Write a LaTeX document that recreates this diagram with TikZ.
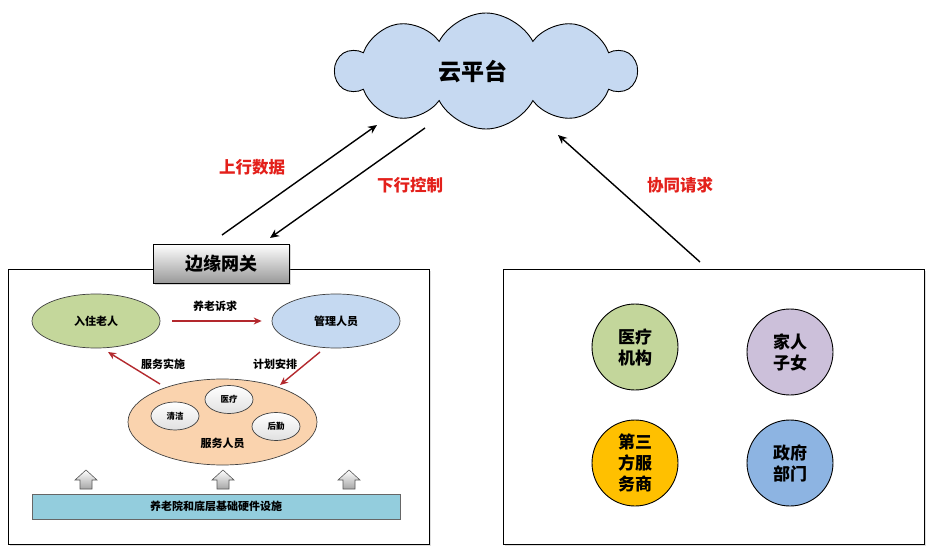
\documentclass[tikz,border=0pt]{standalone}
\usepackage{fontspec}
\setmainfont{Noto Sans CJK SC}
\usetikzlibrary{shapes.geometric,shapes.symbols,arrows.meta,shadows}
\definecolor{cloudblue}{HTML}{C6D9F1}
\definecolor{labelred}{HTML}{E3201B}
\definecolor{arrred}{HTML}{B3282D}
\definecolor{eldgreen}{HTML}{C4D79B}
\definecolor{mgrblue}{HTML}{C5D9F1}
\definecolor{peach}{HTML}{FAD3AE}
\definecolor{barblue}{HTML}{93CDDD}
\definecolor{cgreen}{HTML}{C3D69B}
\definecolor{cpurple}{HTML}{CCC0DA}
\definecolor{corange}{HTML}{FFC000}
\definecolor{cblue}{HTML}{8DB4E2}
\tikzset{
  panel/.style={draw=black, line width=0.9pt, fill=white, anchor=north west,
    drop shadow={shadow xshift=1.5pt, shadow yshift=-1.5pt, opacity=0.25}},
  ell/.style={ellipse, draw=black!75, line width=0.7pt, inner sep=0pt},
  bigtxt/.style={font=\fontsize{11}{11}\selectfont\bfseries},
  smalltxt/.style={font=\fontsize{8.5}{8.5}\selectfont\bfseries},
  smallell/.style={ell, minimum width=48pt, minimum height=28pt, top color=white, bottom color=black!12, smalltxt},
  circnode/.style={circle, draw=black, line width=0.9pt, minimum size=86pt, inner sep=0pt, align=center,
    font=\fontsize{17}{21}\selectfont\bfseries},
  redlbl/.style={text=labelred, font=\fontsize{16.5}{16.5}\selectfont\bfseries},
  blk/.style={-{Stealth[length=9pt,width=8pt]}, line width=1.4pt},
  redarr/.style={-{Stealth[length=8pt,width=7pt]}, line width=1.4pt, draw=arrred},
  uparrow/.pic={\path[draw=black!65, line width=0.6pt, top color=white, bottom color=black!35]
     (0,-9.5) -- (11,0.5) -- (6,0.5) -- (6,9.5) -- (-6,9.5) -- (-6,0.5) -- (-11,0.5) -- cycle;}
}
\begin{document}
\begin{tikzpicture}[x=1pt,y=-1pt,font=\bfseries]
\useasboundingbox (0,0) rectangle (931,553);
% cloud
\node[cloud, cloud puffs=10, cloud puff arc=125, cloud ignores aspect, draw=black, line width=0.9pt, fill=cloudblue,
  minimum width=300pt, minimum height=116pt, inner sep=0pt] (cloud) at (486,71) {};
\node[font=\fontsize{23}{23}\selectfont\bfseries] (cloudtxt) at (473,72) {云平台};
% panels
\node[panel, minimum width=421pt, minimum height=275pt] (left) at (8,269) {};
\node[panel, minimum width=421pt, minimum height=275pt] (right) at (503,269) {};
% gateway
\node[draw=black, line width=0.9pt, top color=white, bottom color=black!40, minimum width=136pt,
  minimum height=39pt, inner sep=0pt, font=\fontsize{18}{18}\selectfont\bfseries,
  drop shadow={shadow xshift=1.5pt, shadow yshift=-1.5pt, opacity=0.3}] (gw) at (221,263.5) {边缘网关};
% top arrows
\coordinate (a1s) at (222,235);
\coordinate (a1e) at (377,125);
\coordinate (a2s) at (425,128);
\coordinate (a2e) at (270,238);
\coordinate (a3s) at (700,262);
\coordinate (a3e) at (558,135);
\draw[blk] (a1s) -- (a1e);
\draw[blk] (a2s) -- (a2e);
\draw[blk] (a3s) -- (a3e);
\node[redlbl] (l1) at (252,167) {上行数据};
\node[redlbl] (l2) at (410,185) {下行控制};
\node[redlbl] (l3) at (680,185) {协同请求};
% left panel contents
\node[ell, fill=eldgreen, minimum width=128pt, minimum height=54pt, bigtxt] (elder) at (96,321) {入住老人};
\node[ell, fill=mgrblue, minimum width=128pt, minimum height=54pt, bigtxt] (mgr) at (336,321) {管理人员};
\node[ell, fill=peach, minimum width=189pt, minimum height=86pt] (svc) at (222.5,422) {};
\node[bigtxt] (svctxt) at (222.5,443) {服务人员};
\node[smallell] (clean) at (175,416) {清洁};
\node[smallell] (med) at (229,399.5) {医疗};
\node[smallell] (logi) at (276,426.5) {后勤};
\draw[redarr, shorten <=12pt, shorten >=10pt] (elder) -- (mgr);
\node[bigtxt] (t1) at (215,306) {养老诉求};
\coordinate (s1) at (160,384);
\coordinate (e1) at (108,352);
\coordinate (s2) at (320,352);
\coordinate (e2) at (280,385);
\draw[redarr] (s1) -- (e1);
\draw[redarr] (s2) -- (e2);
\node[bigtxt] (t2) at (163,364) {服务实施};
\node[bigtxt] (t3) at (275,364) {计划安排};
\pic (u1) at (86,479.5) {uparrow};
\pic (u2) at (223,479.5) {uparrow};
\pic (u3) at (349,479.5) {uparrow};
\node[draw=black!60, line width=0.7pt, fill=barblue, minimum width=368pt, minimum height=25pt, inner sep=0pt, bigtxt,
  drop shadow={shadow xshift=1pt, shadow yshift=-1pt, opacity=0.25}] (bar) at (216,506.5) {养老院和底层基础硬件设施};
% right panel circles
\node[circnode, fill=cgreen] (c1) at (635,347) {医疗\\机构};
\node[circnode, fill=cpurple] (c2) at (790,352) {家人\\子女};
\node[circnode, fill=corange] (c3) at (635,463) {第三\\方服\\务商};
\node[circnode, fill=cblue] (c4) at (790,463) {政府\\部门};
\end{tikzpicture}
\end{document}
